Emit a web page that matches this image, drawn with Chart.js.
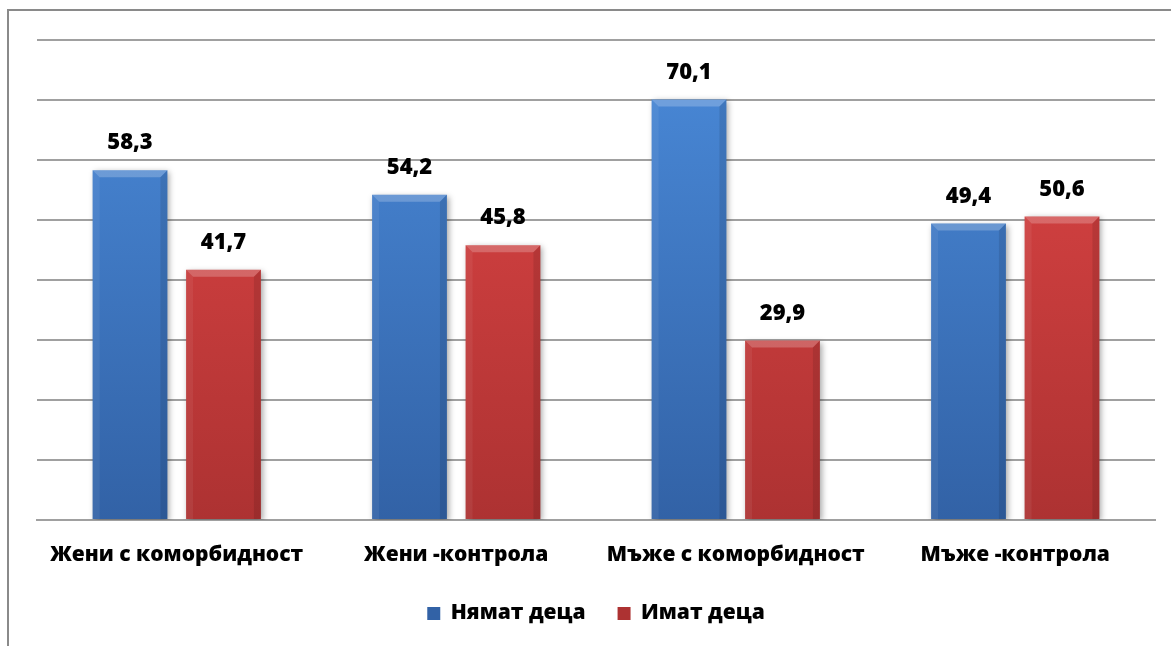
<!DOCTYPE html>
<html>
<head>
<meta charset="utf-8">
<script src="https://cdn.jsdelivr.net/npm/chart.js@4"></script>
<style>
  html, body { margin: 0; padding: 0; background: #fff; }
  #wrap { width: 1171px; height: 646px; position: relative; }
</style>
</head>
<body>
<div id="wrap"><canvas id="c" width="1171" height="646"></canvas></div>
<script>
const categories = ['Жени с коморбидност', 'Жени -контрола', 'Мъже с коморбидност', 'Мъже -контрола'];
const noChildren = [58.3, 54.2, 70.1, 49.4];
const withChildren = [41.7, 45.8, 29.9, 50.6];
const seriesNames = ['Нямат деца', 'Имат деца'];

const FONT = '"Open Sans", sans-serif';
const WEIGHT = '800';

function vGrad(ctx, area, top, bottom) {
  const g = ctx.createLinearGradient(0, area.top, 0, area.bottom);
  g.addColorStop(0, top);
  g.addColorStop(1, bottom);
  return g;
}

// Frame around the chart (top and left edges)
const framePlugin = {
  id: 'frame',
  beforeDraw(chart) {
    const ctx = chart.ctx;
    ctx.save();
    ctx.strokeStyle = '#8a8a8a';
    ctx.lineWidth = 2;
    ctx.beginPath();
    ctx.moveTo(8, 646);
    ctx.lineTo(8, 10);
    ctx.lineTo(1171, 10);
    ctx.stroke();
    ctx.restore();
  }
};

// Soft drop shadow under the bars
const shadowPlugin = {
  id: 'barShadow',
  beforeDatasetsDraw(chart) {
    const ctx = chart.ctx;
    ctx.save();
    ctx.shadowColor = 'rgba(0,0,0,0.35)';
    ctx.shadowBlur = 6;
    ctx.shadowOffsetX = 2;
    ctx.shadowOffsetY = 2;
  },
  afterDatasetsDraw(chart) {
    chart.ctx.restore();
  }
};

// Bevelled top and edges on each bar
const bevelPlugin = {
  id: 'bevel',
  afterDatasetsDraw(chart) {
    const ctx = chart.ctx;
    chart.data.datasets.forEach((ds, i) => {
      const meta = chart.getDatasetMeta(i);
      meta.data.forEach(bar => {
        const { x, y, base, width } = bar.getProps(['x', 'y', 'base', 'width'], true);
        const l = x - width / 2, r = x + width / 2, b = 7;
        ctx.save();
        ctx.fillStyle = 'rgba(255,255,255,0.22)';
        ctx.beginPath();
        ctx.moveTo(l, y); ctx.lineTo(r, y); ctx.lineTo(r - b, y + b); ctx.lineTo(l + b, y + b);
        ctx.closePath(); ctx.fill();
        ctx.fillStyle = 'rgba(255,255,255,0.06)';
        ctx.beginPath();
        ctx.moveTo(l, y); ctx.lineTo(l + b, y + b); ctx.lineTo(l + b, base); ctx.lineTo(l, base);
        ctx.closePath(); ctx.fill();
        ctx.fillStyle = 'rgba(0,0,0,0.10)';
        ctx.beginPath();
        ctx.moveTo(r, y); ctx.lineTo(r - b, y + b); ctx.lineTo(r - b, base); ctx.lineTo(r, base);
        ctx.closePath(); ctx.fill();
        ctx.restore();
      });
    });
  }
};

// Value labels above bars
const valueLabels = {
  id: 'valueLabels',
  afterDatasetsDraw(chart) {
    const ctx = chart.ctx;
    ctx.save();
    ctx.font = WEIGHT + ' 22px ' + FONT;
    ctx.fillStyle = '#000';
    ctx.textAlign = 'center';
    ctx.textBaseline = 'middle';
    chart.data.datasets.forEach((ds, i) => {
      chart.getDatasetMeta(i).data.forEach((bar, j) => {
        const v = ds.data[j];
        ctx.fillText(v.toFixed(1).replace('.', ','), bar.x, bar.y - 27);
      });
    });
    ctx.restore();
  }
};

new Chart(document.getElementById('c'), {
  type: 'bar',
  data: {
    labels: categories,
    datasets: [
      {
        label: seriesNames[0],
        data: noChildren,
        backgroundColor: c => c.chart.chartArea ? vGrad(c.chart.ctx, c.chart.chartArea, '#4a8ad9', '#3262a6') : '#3f78c2',
        borderWidth: 0,
        categoryPercentage: 0.669,
        barPercentage: 0.8
      },
      {
        label: seriesNames[1],
        data: withChildren,
        backgroundColor: c => c.chart.chartArea ? vGrad(c.chart.ctx, c.chart.chartArea, '#e04646', '#ad3232') : '#c83c3c',
        borderWidth: 0,
        categoryPercentage: 0.669,
        barPercentage: 0.8
      }
    ]
  },
  options: {
    responsive: false,
    animation: false,
    layout: { padding: { left: 37, right: 16, top: 40, bottom: 12 } },
    scales: {
      x: {
        grid: { display: false },
        border: { color: '#a0a0a0', width: 2 },
        ticks: { color: '#000', font: { family: FONT, size: 21, weight: WEIGHT }, padding: 14, maxRotation: 0 },
        afterFit: s => { s.height = 51; }
      },
      y: {
        min: 0, max: 80,
        ticks: { stepSize: 10, display: false },
        grid: { color: '#a0a0a0', lineWidth: 2, drawTicks: false },
        border: { display: false }
      }
    },
    plugins: {
      legend: {
        position: 'bottom',
        labels: {
          color: '#000',
          font: { family: FONT, size: 21, weight: WEIGHT },
          boxWidth: 13, boxHeight: 13, padding: 32
        }
      },
      tooltip: { enabled: false }
    }
  },
  plugins: [framePlugin, shadowPlugin, bevelPlugin, valueLabels]
});
</script>
</body>
</html>
